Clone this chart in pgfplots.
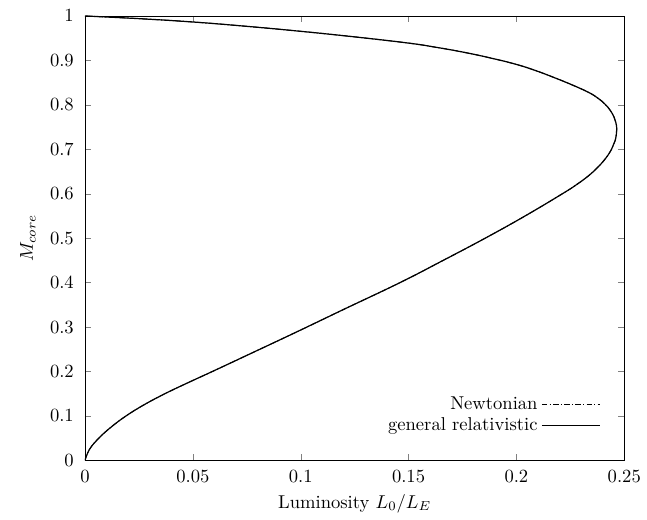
\documentclass[border=0pt]{standalone}
\usepackage{pgfplots}
\pgfplotsset{compat=1.18}
\usepackage{pgfplotstable}

% M_core against L_0/L_E
\pgfplotstableread{
L M
0 0
0.0021 0.025
0.0064 0.050
0.0121 0.075
0.0190 0.100
0.0273 0.125
0.0370 0.150
0.0478 0.175
0.0590 0.200
0.0766 0.240
0.0985 0.290
0.1200 0.340
0.1460 0.400
0.1660 0.450
0.1855 0.500
0.2040 0.550
0.2213 0.600
0.2277 0.620
0.2333 0.640
0.2378 0.660
0.2414 0.680
0.2441 0.700
0.2458 0.720
0.2465 0.745
0.2461 0.760
0.2453 0.772
0.2436 0.787
0.2410 0.802
0.2378 0.815
0.2335 0.828
0.2258 0.845
0.2172 0.862
0.2090 0.877
0.2000 0.891
0.1880 0.9055
0.1755 0.9185
0.1628 0.9295
0.1500 0.9390
0.1250 0.9530
0.1000 0.9655
0.0750 0.9767
0.0500 0.9865
0.0250 0.9940
0 1
}\datacurve

\begin{document}
\begin{tikzpicture}
\begin{axis}[
  scale only axis,
  width=290pt, height=239pt,
  xmin=0, xmax=0.25, ymin=0, ymax=1,
  xtick={0,0.05,0.1,0.15,0.2,0.25},
  ytick={0,0.1,0.2,0.3,0.4,0.5,0.6,0.7,0.8,0.9,1},
  xticklabel style={/pgf/number format/fixed, /pgf/number format/precision=2, yshift=-2pt},
  yticklabel style={/pgf/number format/fixed, /pgf/number format/precision=1, xshift=-2.5pt},
  tick align=inside,
  major tick length=3.5pt,
  xlabel={Luminosity $L_0/L_E$},
  ylabel={$M_{core}$},
  xlabel style={at={(axis description cs:0.5,-0.097)}, anchor=center},
  ylabel style={at={(axis description cs:-0.106,0.5)}, anchor=center},
  legend style={at={(0.957,0.052)}, anchor=south east, draw=none, fill=none,
    inner xsep=0pt, inner ysep=0pt, legend cell align=right, row sep=-1.3pt},
  legend plot pos=right,
  legend image code/.code={\draw[#1] (0.1cm,0cm) -- (1.2cm,0cm);},
]
\addplot[black, line width=0.5pt, dash pattern=on 3pt off 1.2pt on 0.6pt off 1.2pt, smooth, tension=0.7] table[x=L, y=M] {\datacurve};
\addlegendentry{Newtonian}
\addplot[black, line width=0.65pt, smooth, tension=0.7] table[x=L, y=M] {\datacurve};
\addlegendentry{general relativistic}
\coordinate (bl) at (rel axis cs:0,0);
\coordinate (tr) at (rel axis cs:1,1);
\end{axis}
% page margins as in the reference
\path (bl) ++(-45.7pt,-31.2pt);
\path (tr) ++(11.8pt,8.6pt);
\end{tikzpicture}
\end{document}
